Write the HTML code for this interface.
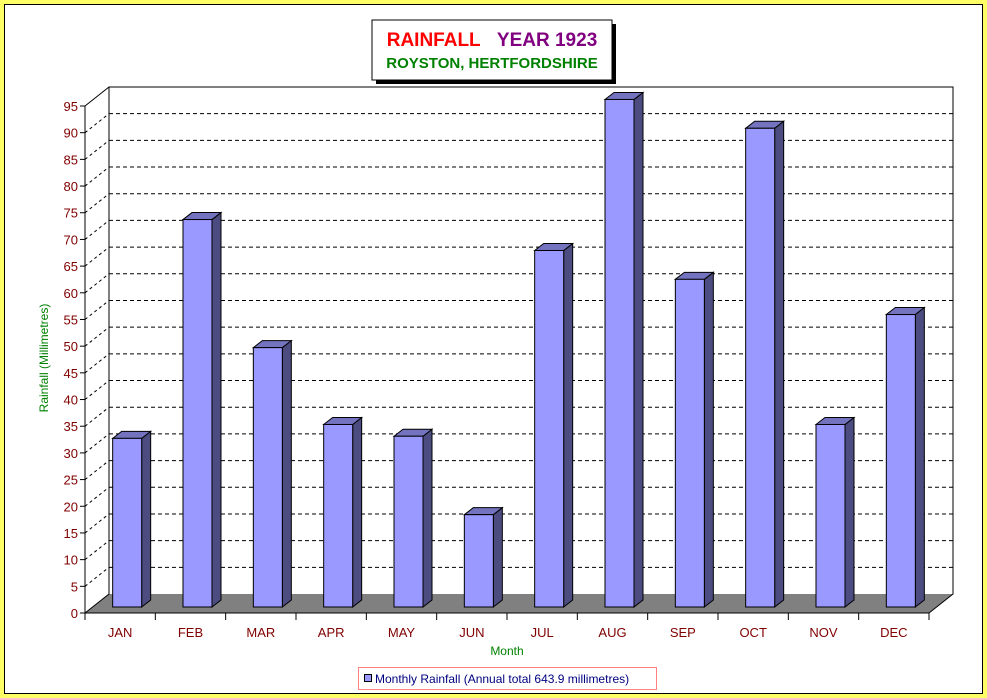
<!DOCTYPE html>
<html><head><meta charset="utf-8"><style>
body{margin:0;background:#ffff66;}
svg{display:block;font-family:"Liberation Sans",sans-serif;}
</style></head><body>
<svg width="987" height="698" id="c">
<rect x="0" y="0" width="987" height="698" fill="#ffff66"/>
<rect x="4.5" y="4.5" width="978" height="689" fill="#fff" stroke="#000"/>
<g>
<rect x="376" y="24" width="240" height="60" fill="#000"/>
<rect x="372" y="20" width="240" height="60" fill="#fff" stroke="#000"/>
<text x="492" y="46" text-anchor="middle" font-size="19" font-weight="bold"><tspan fill="#ff0000">RAINFALL</tspan><tspan fill="#800080" dx="18">YEAR 1923</tspan></text>
<text x="492" y="68" text-anchor="middle" font-size="15" font-weight="bold" fill="#008000">ROYSTON, HERTFORDSHIRE</text>
</g>
<g id="plot"></g>
<text transform="translate(48,358) rotate(-90)" text-anchor="middle" font-size="12" fill="#008000">Rainfall  (Millimetres)</text>
<text x="507" y="655" text-anchor="middle" font-size="12" fill="#008000">Month</text>
<g>
<rect x="358.5" y="667.5" width="298" height="22" fill="#fff" stroke="#ff8080"/>
<rect x="364.5" y="674.5" width="7" height="7" fill="#9999ff" stroke="#000"/>
<text x="375" y="683" font-size="12" fill="#000080">Monthly Rainfall (Annual total 643.9 millimetres)</text>
</g>
</svg>
<script>
const categories=["JAN","FEB","MAR","APR","MAY","JUN","JUL","AUG","SEP","OCT","NOV","DEC"];
const rainfall=[31.6,72.6,48.6,34.2,32.0,17.3,66.8,95.1,61.4,89.7,34.2,54.8];
const yTicks=[0,5,10,15,20,25,30,35,40,45,50,55,60,65,70,75,80,85,90,95];
const NS="http://www.w3.org/2000/svg";
const g=document.getElementById('plot');
const X0=85,X1=929,Y0=613,S=(613-106)/95,DX=24,DY=-19;
const cw=(X1-X0)/categories.length;
function yv(v){return Y0-v*S;}
function xc(i){return X0+i*cw;}
function mk(t,a,p){const e=document.createElementNS(NS,t);for(const k in a)e.setAttribute(k,a[k]);(p||g).appendChild(e);return e;}
// floor
let e=mk('polygon',{points:`${X0},${Y0} ${X1},${Y0} ${X1+DX},${Y0+DY} ${X0+DX},${Y0+DY}`,fill:'#808080'});


// gridlines
yTicks.forEach(v=>{
 const y=yv(v);
 if(v>0&&v<95){
  let l=mk('line',{x1:X0+DX,y1:y+DY,x2:X1+DX,y2:y+DY,stroke:'#000','stroke-dasharray':'4,3'});
  
  
 }
 if(v>0){
  let d=mk('line',{x1:X0,y1:y,x2:X0+DX,y2:y+DY,stroke:'#000','stroke-dasharray':v<95?'3,3':'none'});
  
  
 }
 let t=mk('line',{x1:X0-5,y1:y,x2:X0,y2:y,stroke:'#000'});
 
 
 let tx=mk('text',{x:X0-7,y:y+5,'text-anchor':'end','font-size':13,fill:'#800000'});
 tx.textContent=v;
 
 
});
// walls
mk('polyline',{points:`${X0},${Y0} ${X0+DX},${Y0+DY} ${X0+DX},${yv(95)+DY} ${X1+DX},${yv(95)+DY} ${X1+DX},${Y0+DY} ${X1},${Y0}`,fill:'none',stroke:'#000'});
mk('line',{x1:X0,y1:Y0,x2:X0,y2:yv(95),stroke:'#000'});
mk('line',{x1:X0,y1:Y0,x2:X1,y2:Y0,stroke:'#000'});
// bars
const BW=29,BD=9,BDY=-7,OX=7,OY=-6;
categories.forEach((c,i)=>{
 const cx=xc(i)+cw/2+OX, x=cx-BW/2, yb=Y0+OY, yt=yb-rainfall[i]*S;
 const bg=mk('g',{});
 
 
 mk('polygon',{points:`${x+BW},${yb} ${x+BW+BD},${yb+BDY} ${x+BW+BD},${yt+BDY} ${x+BW},${yt}`,fill:'#4c4c80',stroke:'#000'},bg);
 mk('polygon',{points:`${x},${yt} ${x+BD},${yt+BDY} ${x+BW+BD},${yt+BDY} ${x+BW},${yt}`,fill:'#7373bf',stroke:'#000'},bg);
 mk('rect',{x:x,y:yt,width:BW,height:yb-yt,fill:'#9999ff',stroke:'#000'},bg);
 let t=mk('line',{x1:xc(i+1),y1:Y0,x2:xc(i+1),y2:Y0+7,stroke:'#000'});
 
 
 let tx=mk('text',{x:xc(i)+cw/2,y:Y0+24,'text-anchor':'middle','font-size':13,fill:'#800000'});
 tx.textContent=c;
 
 
});
mk('line',{x1:X0,y1:Y0,x2:X0,y2:Y0+7,stroke:'#000'});
</script>
</body></html>
